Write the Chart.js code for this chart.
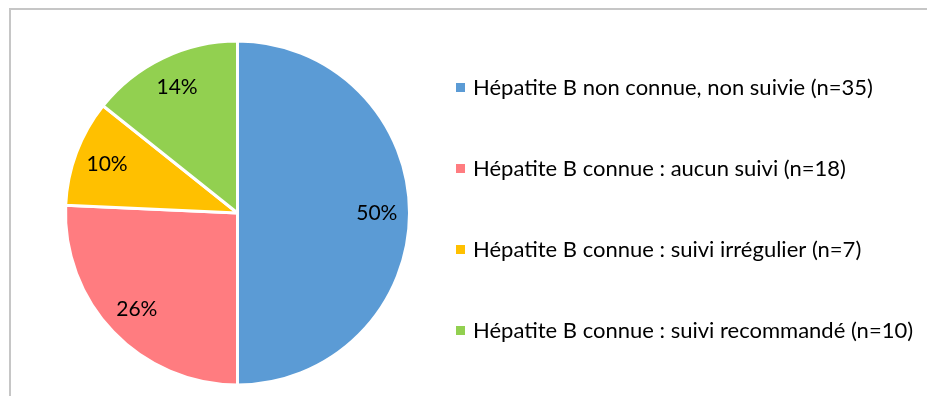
<!DOCTYPE html>
<html>
<head>
<meta charset="utf-8">
<script src="https://cdn.jsdelivr.net/npm/chart.js@4.4.1/dist/chart.umd.min.js"></script>
<style>
  html, body { margin: 0; padding: 0; background: #fff; }
  #wrap { position: relative; width: 927px; height: 396px; }
  #frame { position: absolute; left: 9px; top: 8px; right: -2px; bottom: -2px; border: 2px solid #c6c6c6; box-sizing: border-box; }
  canvas { position: absolute; left: 0; top: 0; }
</style>
</head>
<body>
<div id="wrap">
  <div id="frame"></div>
  <canvas id="c" width="927" height="396"></canvas>
</div>
<script>
// Patients by hepatitis B status and follow-up
const categories = [
  'Hépatite B non connue, non suivie (n=35)',
  'Hépatite B connue : aucun suivi (n=18)',
  'Hépatite B connue : suivi irrégulier (n=7)',
  'Hépatite B connue : suivi recommandé (n=10)'
];
const counts = [35, 18, 7, 10];
const percentLabels = ['50%', '26%', '10%', '14%'];
const colors = ['#5B9BD5', '#FF7C80', '#FFC000', '#92D050'];

const LEGEND_FONT = '22px Lato, "Open Sans", sans-serif';
const LABEL_FONT = '21px Lato, "Open Sans", sans-serif';

// Percentage inside each slice
const sliceLabels = {
  id: 'sliceLabels',
  afterDatasetsDraw(chart) {
    const ctx = chart.ctx;
    const meta = chart.getDatasetMeta(0);
    ctx.save();
    ctx.font = LABEL_FONT;
    ctx.fillStyle = '#000';
    ctx.textAlign = 'center';
    ctx.textBaseline = 'middle';
    meta.data.forEach((arc, i) => {
      const mid = (arc.startAngle + arc.endAngle) / 2;
      const r = arc.outerRadius * 0.81;
      ctx.fillText(percentLabels[i], arc.x + Math.cos(mid) * r, arc.y + Math.sin(mid) * r);
    });
    ctx.restore();
  }
};

// Legend column to the right of the pie
const sideLegend = {
  id: 'sideLegend',
  afterDraw(chart) {
    const ctx = chart.ctx;
    const x0 = 456, rowY = [88, 169, 250, 331];
    ctx.save();
    ctx.font = LEGEND_FONT;
    ctx.textBaseline = 'middle';
    ctx.textAlign = 'left';
    categories.forEach((label, i) => {
      ctx.fillStyle = colors[i];
      ctx.fillRect(x0, rowY[i] - 5, 9, 9);
      ctx.fillStyle = '#000';
      ctx.fillText(label, x0 + 17, rowY[i]);
    });
    ctx.restore();
  }
};

new Chart(document.getElementById('c'), {
  type: 'pie',
  data: {
    labels: categories,
    datasets: [{
      data: counts,
      backgroundColor: colors,
      borderColor: '#ffffff',
      borderWidth: 3
    }]
  },
  options: {
    responsive: false,
    animation: false,
    layout: { padding: { left: 64, right: 516, top: 39, bottom: 9 } },
    plugins: {
      legend: { display: false },
      tooltip: { enabled: false }
    }
  },
  plugins: [sliceLabels, sideLegend]
});
</script>
</body>
</html>
